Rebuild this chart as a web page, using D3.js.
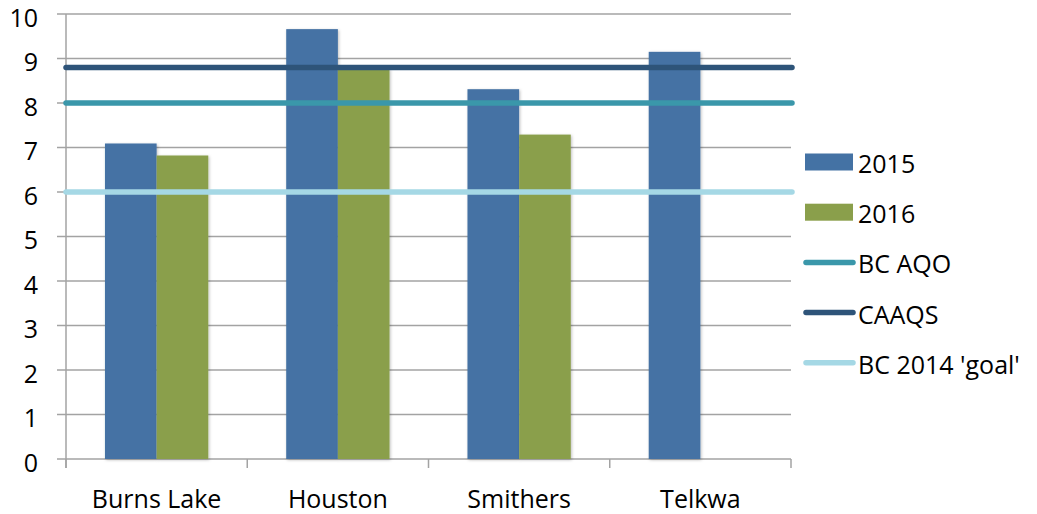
<!DOCTYPE html>
<html>
<head>
<meta charset="utf-8">
<script src="https://cdn.jsdelivr.net/npm/d3@7"></script>
<style>
  body { margin: 0; background: #fff; }
  svg { display: block; font-family: "Open Sans", "Noto Sans", sans-serif; }
</style>
</head>
<body>
<svg width="1037" height="514"></svg>
<script>
// data
var sites = ["Burns Lake", "Houston", "Smithers", "Telkwa"];
var years = ["2015", "2016"];
var values2015 = [7.09, 9.66, 8.31, 9.15];
var values2016 = [6.82, 8.78, 7.29, null];
var refNames = ["BC AQO", "CAAQS", "BC 2014 'goal'"];
var refValues = [8, 8.8, 6];
var yTicks = [0, 1, 2, 3, 4, 5, 6, 7, 8, 9, 10];

var barColors = { "2015": "#4472A4", "2016": "#8A9F4B" };
var refColors = ["#3A97AA", "#2E5479", "#A5D8E5"];

var svg = d3.select("svg");
var margin = { left: 66, right: 246, top: 14, bottom: 55 };
var width = +svg.attr("width"), height = +svg.attr("height");
var fontSize = 25;

var x = d3.scaleBand().domain(sites).range([margin.left, width - margin.right]).paddingInner(0.43).paddingOuter(0.215);
var xOuter = d3.scaleBand().domain(sites).range([margin.left, width - margin.right]);
var x1 = d3.scaleBand().domain(years).range([0, x.bandwidth()]);
var y = d3.scaleLinear().domain([0, 10]).range([height - margin.bottom, margin.top]);

var defs = svg.append("defs");
var shadow = defs.append("filter").attr("id", "shadow").attr("x", "-20%").attr("y", "-5%").attr("width", "140%").attr("height", "110%");
shadow.append("feDropShadow").attr("dx", 1).attr("dy", 1).attr("stdDeviation", 1.5)
  .attr("flood-color", "#000").attr("flood-opacity", 0.25);

// grid lines
svg.append("g").attr("class", "grid")
  .selectAll("line").data(yTicks).enter().append("line")
    .attr("x1", margin.left - 9).attr("x2", width - margin.right)
    .attr("y1", function(d) { return y(d); }).attr("y2", function(d) { return y(d); })
    .attr("stroke", "#A3A3A3").attr("stroke-width", 1.5);

// y axis line
svg.append("line")
  .attr("x1", margin.left).attr("x2", margin.left)
  .attr("y1", y(10)).attr("y2", y(0) + 9)
  .attr("stroke", "#A3A3A3").attr("stroke-width", 1.5);

// x ticks at category boundaries
var bounds = sites.map(function(s) { return xOuter(s); }).concat([width - margin.right]);
svg.append("g").selectAll("line").data(bounds).enter().append("line")
  .attr("x1", function(d) { return d; }).attr("x2", function(d) { return d; })
  .attr("y1", y(0)).attr("y2", y(0) + 9)
  .attr("stroke", "#A3A3A3").attr("stroke-width", 1.5);

// y labels
svg.append("g").selectAll("text").data(yTicks).enter().append("text")
  .attr("x", 38).attr("y", function(d) { return y(d) + 12.5; })
  .attr("text-anchor", "end").attr("font-size", fontSize).attr("fill", "#000")
  .text(function(d) { return d; });

// x labels
svg.append("g").selectAll("text").data(sites).enter().append("text")
  .attr("x", function(d) { return x(d) + x.bandwidth() / 2; }).attr("y", 508)
  .attr("text-anchor", "middle").attr("font-size", fontSize).attr("fill", "#000")
  .text(function(d) { return d; });

// bars
var barData = [];
sites.forEach(function(s, i) {
  if (values2015[i] != null) barData.push({ site: s, year: "2015", value: values2015[i] });
  if (values2016[i] != null) barData.push({ site: s, year: "2016", value: values2016[i] });
});
svg.append("g").attr("class", "bars")
  .selectAll("rect").data(barData).enter().append("rect")
    .attr("x", function(d) { return x(d.site) + x1(d.year); })
    .attr("y", function(d) { return y(d.value); })
    .attr("width", x1.bandwidth())
    .attr("height", function(d) { return y(0) - y(d.value); })
    .attr("fill", function(d) { return barColors[d.year]; })
    .attr("filter", "url(#shadow)");

// reference lines
svg.append("g").attr("class", "refs")
  .selectAll("line").data(refValues).enter().append("line")
    .attr("x1", margin.left).attr("x2", width - margin.right + 1)
    .attr("y1", function(d) { return y(d); }).attr("y2", function(d) { return y(d); })
    .attr("stroke", function(d, i) { return refColors[i]; })
    .attr("stroke-width", 5.5).attr("stroke-linecap", "round");

// legend
var legend = svg.append("g").attr("class", "legend");
var legendItems = years.map(function(yr) { return { name: yr, type: "bar", color: barColors[yr] }; })
  .concat(refNames.map(function(n, i) { return { name: n, type: "line", color: refColors[i] }; }));
var item = legend.selectAll("g").data(legendItems).enter().append("g")
  .attr("transform", function(d, i) { return "translate(0," + (162 + i * 50.2) + ")"; });
item.filter(function(d) { return d.type == "bar"; }).append("rect")
  .attr("x", 805).attr("y", -8.5).attr("width", 48).attr("height", 17)
  .attr("fill", function(d) { return d.color; });
item.filter(function(d) { return d.type == "line"; }).append("line")
  .attr("x1", 806).attr("x2", 853).attr("y1", 0).attr("y2", 0)
  .attr("stroke", function(d) { return d.color; })
  .attr("stroke-width", 5.5).attr("stroke-linecap", "round");
item.append("text")
  .attr("x", 858).attr("y", 11).attr("font-size", fontSize).attr("fill", "#000")
  .text(function(d) { return d.name; });
</script>
</body>
</html>
